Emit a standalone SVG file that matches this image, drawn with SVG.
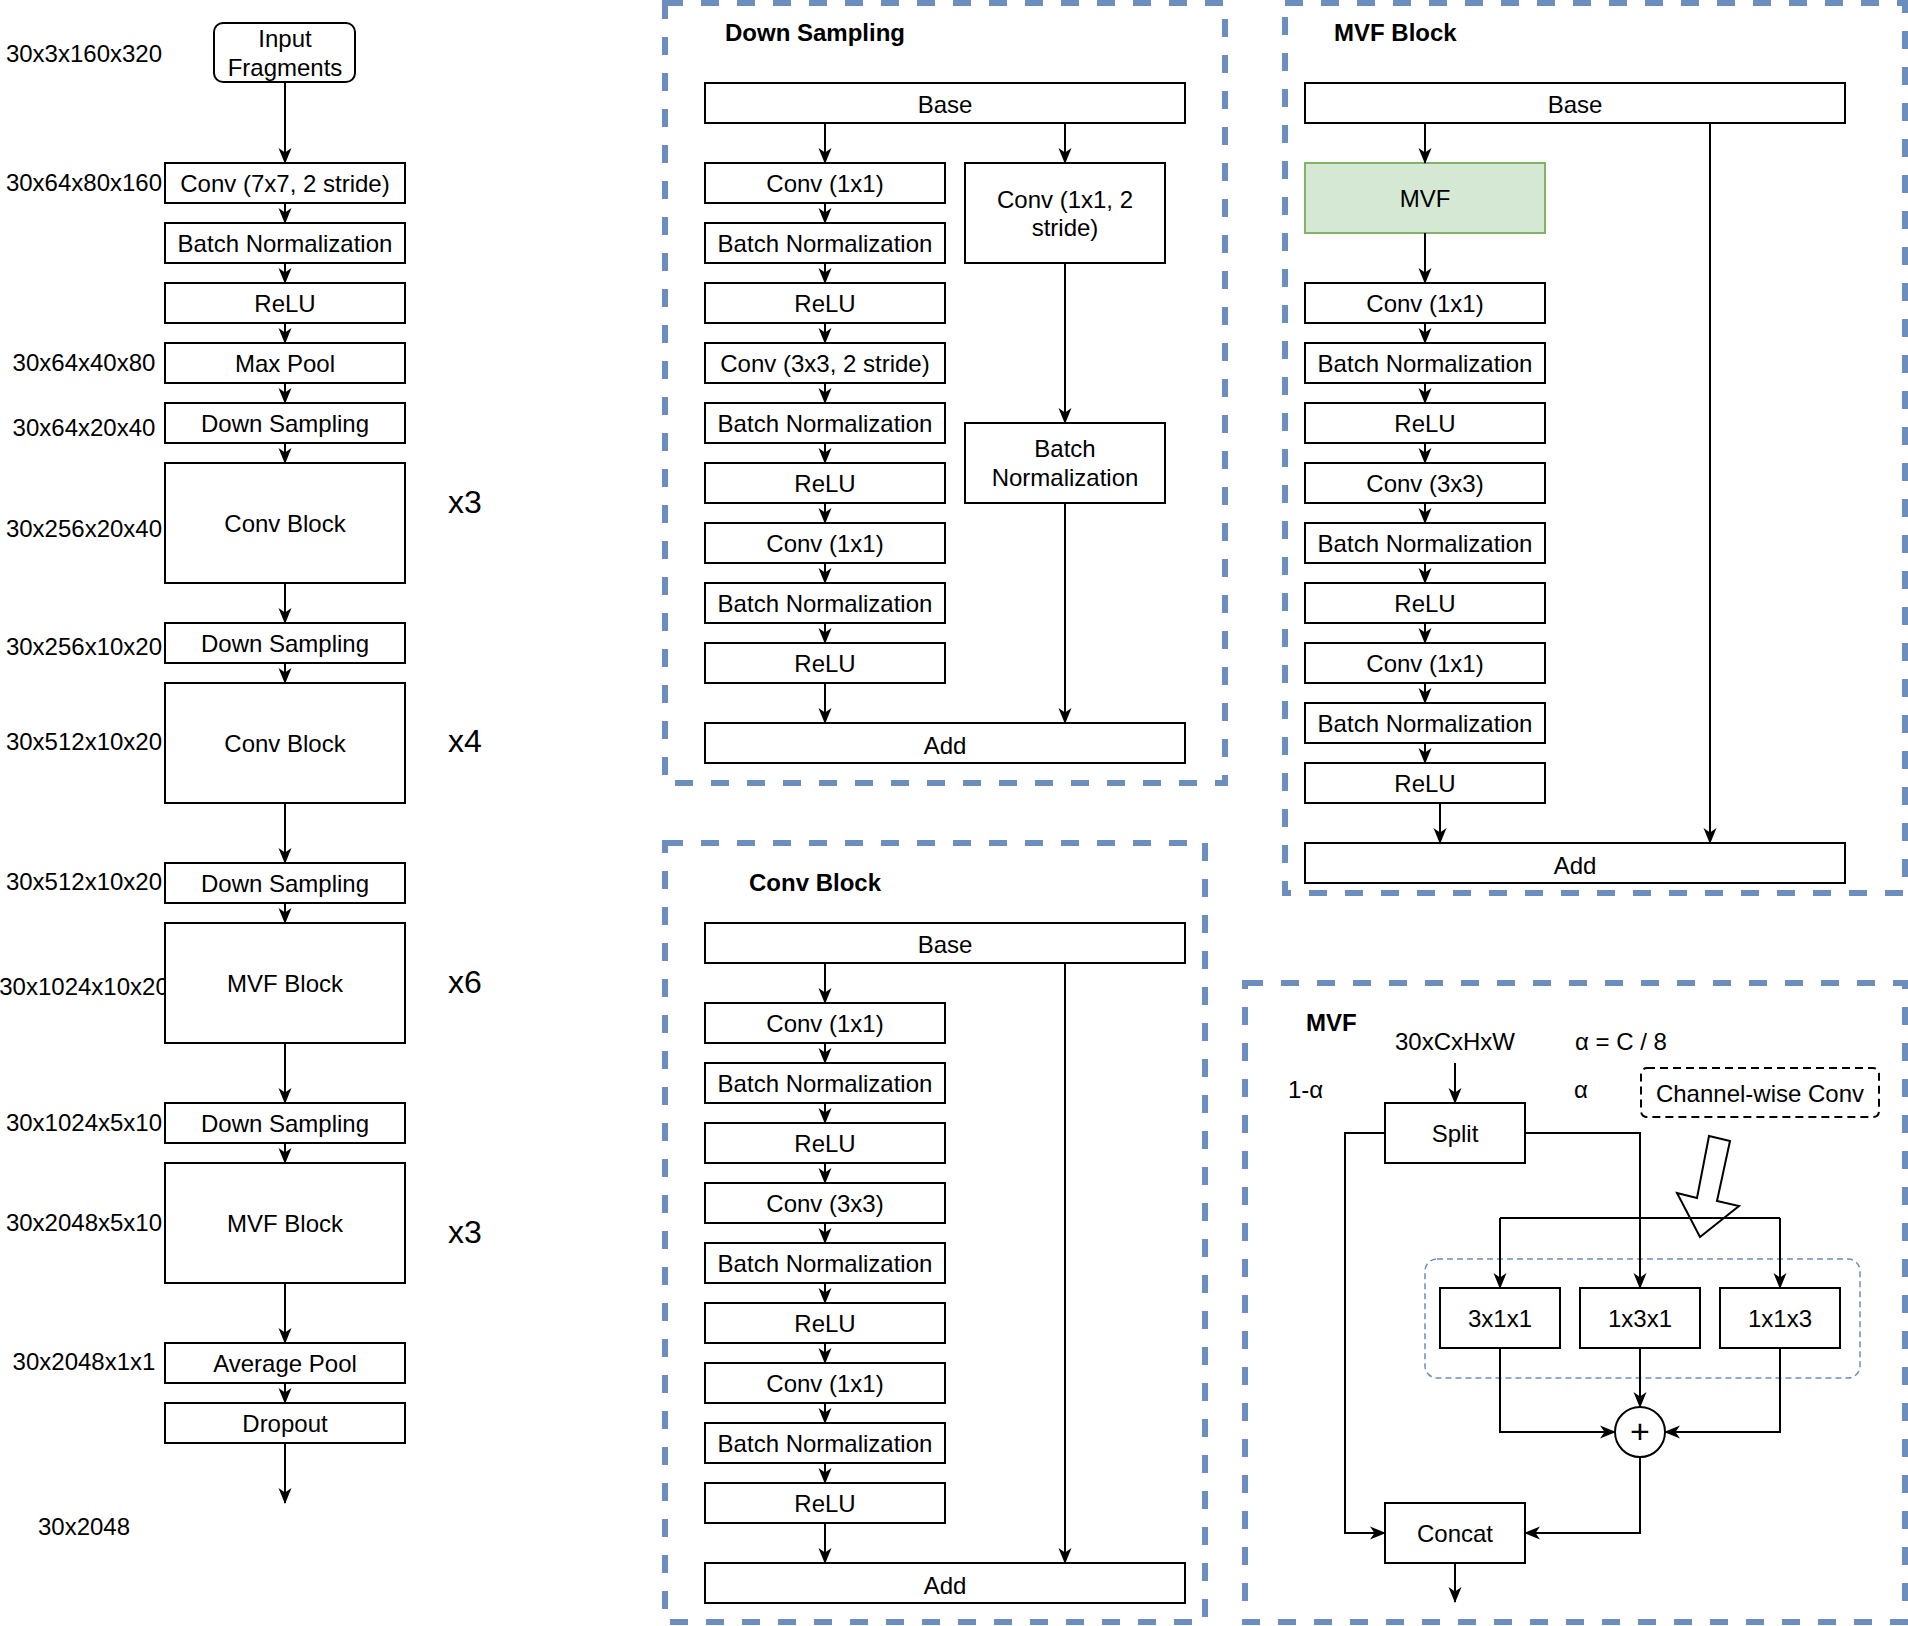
<svg xmlns="http://www.w3.org/2000/svg" width="1908" height="1626" viewBox="0 0 1908 1626">
<style>
.b{fill:#fff;stroke:#000;stroke-width:2}
.g{fill:#d5e8d4;stroke:#82b366;stroke-width:2}
.t{font-family:"Liberation Sans",Arial,Helvetica,sans-serif;font-size:24px;fill:#000;text-anchor:middle;dominant-baseline:central}
.l{text-anchor:start}
.h{font-weight:bold}
.big{font-size:32px}
.panel{fill:none;stroke:#6c8ebf;stroke-width:6;stroke-dasharray:18 18}
.c{fill:none;stroke:#000;stroke-width:2}
.a{marker-end:url(#arr)}
</style>
<defs>
<marker id="arr" viewBox="0 0 16 14" refX="15" refY="7" markerWidth="16" markerHeight="14" orient="auto" markerUnits="userSpaceOnUse">
<path d="M0,0.5 L16,7 L0,13.5 L4.5,7 Z" fill="#000"/>
</marker>
</defs>
<rect width="1908" height="1626" fill="#fff"/>

<!-- panels -->
<g id="panels">
<rect id="panel-downsampling" class="panel" x="665" y="3" width="560" height="780"/>
<rect id="panel-mvfblock" class="panel" x="1285" y="3" width="620" height="890"/>
<rect id="panel-convblock" class="panel" x="665" y="843" width="540" height="779"/>
<rect id="panel-mvf" class="panel" x="1245" y="983" width="660" height="639"/>
<rect id="mvf-group" x="1425" y="1259" width="435" height="119" rx="12" fill="none" stroke="#6c8ebf" stroke-width="1.5" stroke-dasharray="6 4"/>
</g>

<!-- titles -->
<g id="titles">
<text class="t l h" x="725" y="32">Down Sampling</text>
<text class="t l h" x="1334" y="32">MVF Block</text>
<text class="t l h" x="749" y="882">Conv Block</text>
<text class="t l h" x="1306" y="1022">MVF</text>
</g>

<!-- left column labels -->
<g id="labels">
<text class="t" x="84" y="53">30x3x160x320</text>
<text class="t" x="84" y="182">30x64x80x160</text>
<text class="t" x="84" y="362">30x64x40x80</text>
<text class="t" x="84" y="427">30x64x20x40</text>
<text class="t" x="84" y="528">30x256x20x40</text>
<text class="t" x="84" y="646">30x256x10x20</text>
<text class="t" x="84" y="741">30x512x10x20</text>
<text class="t" x="84" y="881">30x512x10x20</text>
<text class="t" x="84" y="986">30x1024x10x20</text>
<text class="t" x="84" y="1122">30x1024x5x10</text>
<text class="t" x="84" y="1222">30x2048x5x10</text>
<text class="t" x="84" y="1361">30x2048x1x1</text>
<text class="t" x="84" y="1526">30x2048</text>
<text class="t big" x="465" y="502">x3</text>
<text class="t big" x="465" y="741">x4</text>
<text class="t big" x="465" y="982">x6</text>
<text class="t big" x="465" y="1232">x3</text>
<text class="t" x="1455" y="1041">30xCxHxW</text>
<text class="t l" x="1575" y="1041">α = C / 8</text>
<text class="t l" x="1288" y="1089">1-α</text>
<text class="t l" x="1574" y="1089">α</text>
</g>

<!-- main column nodes -->
<g id="n-input"><rect class="b" x="214" y="23" width="141" height="59" rx="9"/><text class="t" x="285" y="38">Input</text><text class="t" x="285" y="67">Fragments</text></g>
<g id="n-conv7"><rect class="b" x="165" y="163" width="240" height="40"/><text class="t" x="285" y="183">Conv (7x7, 2 stride)</text></g>
<g id="n-bn0"><rect class="b" x="165" y="223" width="240" height="40"/><text class="t" x="285" y="243">Batch Normalization</text></g>
<g id="n-relu0"><rect class="b" x="165" y="283" width="240" height="40"/><text class="t" x="285" y="303">ReLU</text></g>
<g id="n-maxpool"><rect class="b" x="165" y="343" width="240" height="40"/><text class="t" x="285" y="363">Max Pool</text></g>
<g id="n-ds1"><rect class="b" x="165" y="403" width="240" height="40"/><text class="t" x="285" y="423">Down Sampling</text></g>
<g id="n-cb1"><rect class="b" x="165" y="463" width="240" height="120"/><text class="t" x="285" y="523">Conv Block</text></g>
<g id="n-ds2"><rect class="b" x="165" y="623" width="240" height="40"/><text class="t" x="285" y="643">Down Sampling</text></g>
<g id="n-cb2"><rect class="b" x="165" y="683" width="240" height="120"/><text class="t" x="285" y="743">Conv Block</text></g>
<g id="n-ds3"><rect class="b" x="165" y="863" width="240" height="40"/><text class="t" x="285" y="883">Down Sampling</text></g>
<g id="n-mvfb1"><rect class="b" x="165" y="923" width="240" height="120"/><text class="t" x="285" y="983">MVF Block</text></g>
<g id="n-ds4"><rect class="b" x="165" y="1103" width="240" height="40"/><text class="t" x="285" y="1123">Down Sampling</text></g>
<g id="n-mvfb2"><rect class="b" x="165" y="1163" width="240" height="120"/><text class="t" x="285" y="1223">MVF Block</text></g>
<g id="n-avgpool"><rect class="b" x="165" y="1343" width="240" height="40"/><text class="t" x="285" y="1363">Average Pool</text></g>
<g id="n-dropout"><rect class="b" x="165" y="1403" width="240" height="40"/><text class="t" x="285" y="1423">Dropout</text></g>

<!-- Down Sampling panel nodes -->
<g id="ds-base"><rect class="b" x="705" y="83" width="480" height="40"/><text class="t" x="945" y="104">Base</text></g>
<g id="ds-conv1"><rect class="b" x="705" y="163" width="240" height="40"/><text class="t" x="825" y="183">Conv (1x1)</text></g>
<g id="ds-bn1"><rect class="b" x="705" y="223" width="240" height="40"/><text class="t" x="825" y="243">Batch Normalization</text></g>
<g id="ds-relu1"><rect class="b" x="705" y="283" width="240" height="40"/><text class="t" x="825" y="303">ReLU</text></g>
<g id="ds-conv3"><rect class="b" x="705" y="343" width="240" height="40"/><text class="t" x="825" y="363">Conv (3x3, 2 stride)</text></g>
<g id="ds-bn2"><rect class="b" x="705" y="403" width="240" height="40"/><text class="t" x="825" y="423">Batch Normalization</text></g>
<g id="ds-relu2"><rect class="b" x="705" y="463" width="240" height="40"/><text class="t" x="825" y="483">ReLU</text></g>
<g id="ds-conv1b"><rect class="b" x="705" y="523" width="240" height="40"/><text class="t" x="825" y="543">Conv (1x1)</text></g>
<g id="ds-bn3"><rect class="b" x="705" y="583" width="240" height="40"/><text class="t" x="825" y="603">Batch Normalization</text></g>
<g id="ds-relu3"><rect class="b" x="705" y="643" width="240" height="40"/><text class="t" x="825" y="663">ReLU</text></g>
<g id="ds-add"><rect class="b" x="705" y="723" width="480" height="40"/><text class="t" x="945" y="745">Add</text></g>
<g id="ds-convs"><rect class="b" x="965" y="163" width="200" height="100"/><text class="t" x="1065" y="199">Conv (1x1, 2</text><text class="t" x="1065" y="227">stride)</text></g>
<g id="ds-bns"><rect class="b" x="965" y="423" width="200" height="80"/><text class="t" x="1065" y="448">Batch</text><text class="t" x="1065" y="477">Normalization</text></g>

<!-- Conv Block panel nodes -->
<g id="cb-base"><rect class="b" x="705" y="923" width="480" height="40"/><text class="t" x="945" y="944">Base</text></g>
<g id="cb-conv1"><rect class="b" x="705" y="1003" width="240" height="40"/><text class="t" x="825" y="1023">Conv (1x1)</text></g>
<g id="cb-bn1"><rect class="b" x="705" y="1063" width="240" height="40"/><text class="t" x="825" y="1083">Batch Normalization</text></g>
<g id="cb-relu1"><rect class="b" x="705" y="1123" width="240" height="40"/><text class="t" x="825" y="1143">ReLU</text></g>
<g id="cb-conv3"><rect class="b" x="705" y="1183" width="240" height="40"/><text class="t" x="825" y="1203">Conv (3x3)</text></g>
<g id="cb-bn2"><rect class="b" x="705" y="1243" width="240" height="40"/><text class="t" x="825" y="1263">Batch Normalization</text></g>
<g id="cb-relu2"><rect class="b" x="705" y="1303" width="240" height="40"/><text class="t" x="825" y="1323">ReLU</text></g>
<g id="cb-conv1b"><rect class="b" x="705" y="1363" width="240" height="40"/><text class="t" x="825" y="1383">Conv (1x1)</text></g>
<g id="cb-bn3"><rect class="b" x="705" y="1423" width="240" height="40"/><text class="t" x="825" y="1443">Batch Normalization</text></g>
<g id="cb-relu3"><rect class="b" x="705" y="1483" width="240" height="40"/><text class="t" x="825" y="1503">ReLU</text></g>
<g id="cb-add"><rect class="b" x="705" y="1563" width="480" height="40"/><text class="t" x="945" y="1585">Add</text></g>

<!-- MVF Block panel nodes -->
<g id="mb-base"><rect class="b" x="1305" y="83" width="540" height="40"/><text class="t" x="1575" y="104">Base</text></g>
<g id="mb-mvf"><rect class="g" x="1305" y="163" width="240" height="70"/><text class="t" x="1425" y="198">MVF</text></g>
<g id="mb-conv1"><rect class="b" x="1305" y="283" width="240" height="40"/><text class="t" x="1425" y="303">Conv (1x1)</text></g>
<g id="mb-bn1"><rect class="b" x="1305" y="343" width="240" height="40"/><text class="t" x="1425" y="363">Batch Normalization</text></g>
<g id="mb-relu1"><rect class="b" x="1305" y="403" width="240" height="40"/><text class="t" x="1425" y="423">ReLU</text></g>
<g id="mb-conv3"><rect class="b" x="1305" y="463" width="240" height="40"/><text class="t" x="1425" y="483">Conv (3x3)</text></g>
<g id="mb-bn2"><rect class="b" x="1305" y="523" width="240" height="40"/><text class="t" x="1425" y="543">Batch Normalization</text></g>
<g id="mb-relu2"><rect class="b" x="1305" y="583" width="240" height="40"/><text class="t" x="1425" y="603">ReLU</text></g>
<g id="mb-conv1b"><rect class="b" x="1305" y="643" width="240" height="40"/><text class="t" x="1425" y="663">Conv (1x1)</text></g>
<g id="mb-bn3"><rect class="b" x="1305" y="703" width="240" height="40"/><text class="t" x="1425" y="723">Batch Normalization</text></g>
<g id="mb-relu3"><rect class="b" x="1305" y="763" width="240" height="40"/><text class="t" x="1425" y="783">ReLU</text></g>
<g id="mb-add"><rect class="b" x="1305" y="843" width="540" height="40"/><text class="t" x="1575" y="865">Add</text></g>

<!-- MVF panel nodes -->
<g id="mvf-split"><rect class="b" x="1385" y="1103" width="140" height="60"/><text class="t" x="1455" y="1133">Split</text></g>
<g id="mvf-concat"><rect class="b" x="1385" y="1503" width="140" height="60"/><text class="t" x="1455" y="1533">Concat</text></g>
<g id="mvf-311"><rect class="b" x="1440" y="1288" width="120" height="60"/><text class="t" x="1500" y="1318">3x1x1</text></g>
<g id="mvf-131"><rect class="b" x="1580" y="1288" width="120" height="60"/><text class="t" x="1640" y="1318">1x3x1</text></g>
<g id="mvf-113"><rect class="b" x="1720" y="1288" width="120" height="60"/><text class="t" x="1780" y="1318">1x1x3</text></g>
<g id="mvf-sum"><circle class="b" cx="1640" cy="1432" r="25"/><text class="t" x="1640" y="1431" style="font-size:34px">+</text></g>
<g id="mvf-cw"><rect x="1641" y="1068" width="238" height="49" rx="6" fill="#fff" stroke="#000" stroke-width="2" stroke-dasharray="8 5"/><text class="t" x="1760" y="1093">Channel-wise Conv</text></g>

<!-- connectors -->
<g id="connectors">
<path class="c a" d="M285,82 V163"/>
<path class="c a" d="M285,203 V223"/>
<path class="c a" d="M285,263 V283"/>
<path class="c a" d="M285,323 V343"/>
<path class="c a" d="M285,383 V403"/>
<path class="c a" d="M285,443 V463"/>
<path class="c a" d="M285,583 V623"/>
<path class="c a" d="M285,663 V683"/>
<path class="c a" d="M285,803 V863"/>
<path class="c a" d="M285,903 V923"/>
<path class="c a" d="M285,1043 V1103"/>
<path class="c a" d="M285,1143 V1163"/>
<path class="c a" d="M285,1283 V1343"/>
<path class="c a" d="M285,1383 V1403"/>
<path class="c a" d="M285,1443 V1503"/>

<path class="c a" d="M825,123 V163"/>
<path class="c a" d="M825,203 V223"/>
<path class="c a" d="M825,263 V283"/>
<path class="c a" d="M825,323 V343"/>
<path class="c a" d="M825,383 V403"/>
<path class="c a" d="M825,443 V463"/>
<path class="c a" d="M825,503 V523"/>
<path class="c a" d="M825,563 V583"/>
<path class="c a" d="M825,623 V643"/>
<path class="c a" d="M825,683 V723"/>
<path class="c a" d="M1065,123 V163"/>
<path class="c a" d="M1065,263 V423"/>
<path class="c a" d="M1065,503 V723"/>

<path class="c a" d="M825,963 V1003"/>
<path class="c a" d="M825,1043 V1063"/>
<path class="c a" d="M825,1103 V1123"/>
<path class="c a" d="M825,1163 V1183"/>
<path class="c a" d="M825,1223 V1243"/>
<path class="c a" d="M825,1283 V1303"/>
<path class="c a" d="M825,1343 V1363"/>
<path class="c a" d="M825,1403 V1423"/>
<path class="c a" d="M825,1463 V1483"/>
<path class="c a" d="M825,1523 V1563"/>
<path class="c a" d="M1065,963 V1563"/>

<path class="c a" d="M1425,123 V163"/>
<path class="c a" d="M1425,233 V283"/>
<path class="c a" d="M1425,323 V343"/>
<path class="c a" d="M1425,383 V403"/>
<path class="c a" d="M1425,443 V463"/>
<path class="c a" d="M1425,503 V523"/>
<path class="c a" d="M1425,563 V583"/>
<path class="c a" d="M1425,623 V643"/>
<path class="c a" d="M1425,683 V703"/>
<path class="c a" d="M1425,743 V763"/>
<path class="c a" d="M1440,803 V843"/>
<path class="c a" d="M1710,123 V843"/>

<path class="c a" d="M1455,1063 V1103"/>
<path class="c a" d="M1385,1133 H1345 V1533 H1385"/>
<path class="c a" d="M1525,1133 H1640 V1288"/>
<path class="c" d="M1500,1218 H1780"/>
<path class="c a" d="M1500,1218 V1288"/>
<path class="c a" d="M1780,1218 V1288"/>
<path class="c a" d="M1500,1348 V1432 H1615"/>
<path class="c a" d="M1640,1348 V1407"/>
<path class="c a" d="M1780,1348 V1432 H1665"/>
<path class="c a" d="M1640,1457 V1533 H1525"/>
<path class="c a" d="M1455,1563 V1602"/>
<polygon id="cw-arrow" points="1709,1136 1730,1141 1717,1201 1739,1206 1700,1237 1677,1193 1697,1198" fill="none" stroke="#000" stroke-width="2" stroke-linejoin="miter"/>
</g>
</svg>
